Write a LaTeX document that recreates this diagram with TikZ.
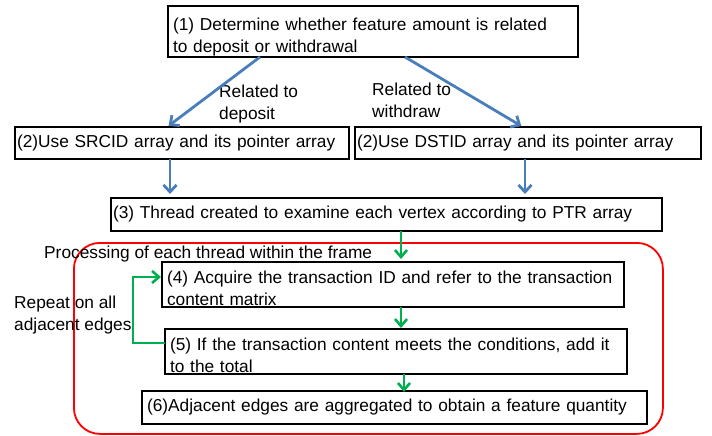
\documentclass[tikz,border=0pt]{standalone}
\usepackage{fontspec}
\setmainfont{Liberation Sans}
\usetikzlibrary{arrows.meta,calc}
\definecolor{flowblue}{RGB}{74,126,187}
\definecolor{loopgreen}{RGB}{0,176,80}
\newcommand{\toppad}[1]{\rule{0pt}{#1}}
\begin{document}
\begin{tikzpicture}[x=1pt,y=-1pt,
  txt/.style={font=\fontsize{17.3}{22}\selectfont},
  box/.style={txt, draw=black, line width=2.2pt, anchor=north west,
    inner ysep=0pt, outer sep=0pt, align=left},
  lbl/.style={txt, anchor=west, inner sep=0pt, align=left},
  bluearrow/.style={draw=flowblue, line width=2.8pt,
    -{Straight Barb[length=7pt,width=13pt]}},
  greenarrow/.style={draw=loopgreen, line width=2.6pt,
    -{Straight Barb[length=7pt,width=12pt]}},
]
\useasboundingbox (0,0) rectangle (712,436);

% frame around the per-thread processing
\node[draw=red, line width=1.8pt, rounded corners=26pt, anchor=north west,
  minimum width=589pt, minimum height=191pt, inner sep=0pt] (frame) at (73,242) {};

% process boxes
\node[box, inner xsep=5pt, text width=400pt, minimum height=51pt] (b1) at (168,6)
  {\toppad{24pt}(1) Determine whether feature amount is related\\to deposit or withdrawal};
\node[box, inner xsep=2pt, text width=330pt, minimum height=32pt] (b2l) at (15,127)
  {(2)Use SRCID array and its pointer array};
\node[box, inner xsep=2pt, text width=342pt, minimum height=32pt] (b2r) at (355,127)
  {(2)Use DSTID array and its pointer array};
\node[box, inner xsep=2pt, text width=547pt, minimum height=33pt] (b3) at (111,198)
  {(3) Thread created to examine each vertex according to PTR array};
\node[box, inner xsep=5pt, text width=452pt, minimum height=45pt] (b4) at (162,262)
  {\toppad{20pt}(4) Acquire the transaction ID and refer to the transaction\\content matrix};
\node[box, inner xsep=5pt, text width=452pt, minimum height=45pt] (b5) at (165,329)
  {\toppad{20pt}(5) If the transaction content meets the conditions, add it\\to the total};
\node[box, inner xsep=5pt, text width=495pt, minimum height=33pt] (b6) at (142,391)
  {(6)Adjacent edges are aggregated to obtain a feature quantity};

% labels
\node[lbl] (ldep) at (219,104) {Related to\\deposit};
\node[lbl] (lwd) at (372,100) {Related to\\withdraw};
\node[lbl] (lproc) at (44,254) {Processing of each thread within the frame};
\node[lbl] (lrep) at (14,315) {Repeat on all\\adjacent edges};

% arrow columns
\coordinate (cl) at (170,0);
\coordinate (cr) at (525,0);
\coordinate (g1) at (401,0);
\coordinate (g2) at (404,0);

% branch arrows
\draw[bluearrow, shorten >=2pt] ([xshift=92pt]b1.south west) -- ([xshift=152pt]b2l.north west);
\draw[bluearrow, shorten >=2pt] ([xshift=237pt]b1.south west) -- ([xshift=168pt]b2r.north west);
\draw[bluearrow, shorten >=4pt] (b2l.south -| cl) -- (b3.north -| cl);
\draw[bluearrow, shorten >=4pt] (b2r.south -| cr) -- (b3.north -| cr);

% per-thread flow
\draw[greenarrow, shorten >=3pt] (b3.south -| g1) -- (b4.north -| g1);
\draw[greenarrow, shorten >=1pt] (b4.south -| g1) -- (b5.north -| g1);
\draw[greenarrow, shorten >=-1pt] (b5.south -| g2) -- (b6.north -| g2);
\draw[greenarrow, shorten >=1pt] ([yshift=8.5pt]b5.west) -- ++(-32,0) |- ([yshift=7.5pt]b4.west);
\end{tikzpicture}
\end{document}
